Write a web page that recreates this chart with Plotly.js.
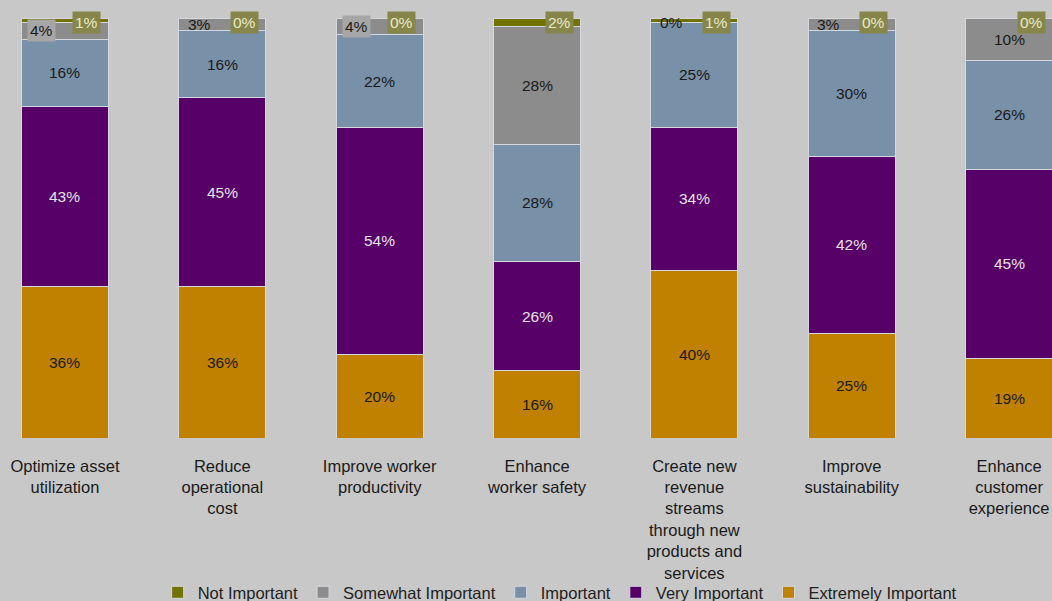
<!DOCTYPE html>
<html>
<head>
<meta charset="utf-8">
<script src="https://cdn.plot.ly/plotly-3.0.1.min.js"></script>
<style>
  html, body { margin: 0; padding: 0; background: #c8c8c8; }
  #chart { width: 1052px; height: 601px; }
</style>
</head>
<body>
<div id="chart"></div>
<script>
// ---- data ----
const categories = [
  "Optimize asset<br>utilization",
  "Reduce<br>operational<br>cost",
  "Improve worker<br>productivity",
  "Enhance<br>worker safety",
  "Create new<br>revenue<br>streams<br>through new<br>products and<br>services",
  "Improve<br>sustainability",
  "Enhance<br>customer<br>experience"
];
const seriesNames = ["Extremely Important", "Very Important", "Important", "Somewhat Important", "Not Important"];
const extremelyImportant = [36, 36, 20, 16, 40, 25, 19];
const veryImportant      = [43, 45, 54, 26, 34, 42, 45];
const important          = [16, 16, 22, 28, 25, 30, 26];
const somewhatImportant  = [4, 3, 4, 28, 0, 3, 10];
const notImportant       = [1, 0, 0, 2, 1, 0, 0];

// ---- styling ----
const seriesValues = [extremelyImportant, veryImportant, important, somewhatImportant, notImportant];
const colors = ["#c08000", "#560068", "#7890a8", "#8c8c8c", "#727200"];
const labelColors = ["#1a1a1a", "#e4e4e4", "#1a1a1a", "#1a1a1a", "#e8e8c8"];
const FONT = "Liberation Sans, Arial, sans-serif";

const traces = seriesNames.map((name, k) => ({
  type: "bar",
  name: name,
  x: categories,
  y: seriesValues[k],
  marker: { color: colors[k], line: { color: "#d4d8de", width: 1 } },
  hoverinfo: "skip"
}));

// labels built from the data
const annotations = [];
categories.forEach((cat, i) => {
  let base = 0;
  seriesValues.forEach((vals, k) => {
    const v = vals[i];
    const mid = base + v / 2;
    base += v;
    const ann = {
      x: cat, y: mid, xref: "x", yref: "y",
      text: v + "%", showarrow: false,
      font: { family: FONT, size: 15.5, color: labelColors[k] },
      xanchor: "center", yanchor: "middle"
    };
    if (k === 4) {
      ann.y = base; ann.yshift = -4; ann.xshift = 22;
      ann.bgcolor = "#86864a"; ann.borderpad = 2;
    } else if (k === 3 && v < 6) {
      ann.xshift = -23; ann.borderpad = 2;
      if (v >= 4) ann.bgcolor = "#a6a6a6";
    }
    annotations.push(ann);
  });
});

const layout = {
  width: 1052, height: 601,
  paper_bgcolor: "#c8c8c8", plot_bgcolor: "#c8c8c8",
  margin: { l: 0, r: 0, t: 18, b: 163, autoexpand: false },
  barmode: "stack",
  bargap: 0.447,
  font: { family: FONT, size: 16.5, color: "#1a1a1a" },
  xaxis: {
    type: "category",
    range: [-0.413, 6.273],
    automargin: false,
    showgrid: false, zeroline: false, showline: false, ticks: "",
    tickfont: { family: FONT, size: 16.5, color: "#1a1a1a" },
    ticklabelstandoff: 16
  },
  yaxis: {
    range: [0, 100], visible: false, showgrid: false, zeroline: false, fixedrange: true
  },
  legend: {
    orientation: "h", traceorder: "reversed",
    x: 0.532, xanchor: "center", y: -0.368, yanchor: "middle",
    font: { family: FONT, size: 16.5, color: "#222" },
    bgcolor: "rgba(0,0,0,0)"
  },
  annotations: annotations,
  showlegend: true
};

Plotly.newPlot("chart", traces, layout, { displayModeBar: false, staticPlot: true });
</script>
</body>
</html>
